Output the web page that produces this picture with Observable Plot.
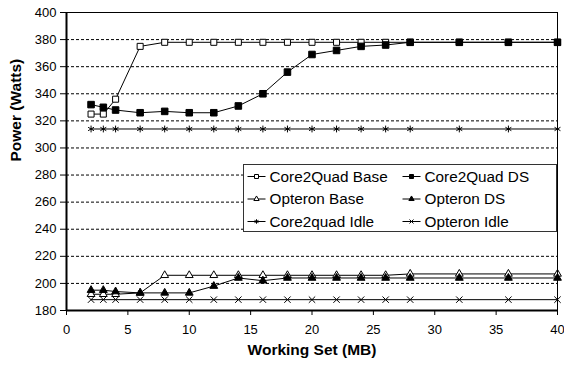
<!DOCTYPE html>
<html><head><meta charset="utf-8">
<script src="https://cdn.jsdelivr.net/npm/d3@7"></script>
<script src="https://cdn.jsdelivr.net/npm/@observablehq/plot@0.6"></script>
<style>
html,body{margin:0;padding:0;background:#fff;}
#wrap{position:relative;width:564px;height:366px;font-family:"Liberation Sans",Arial,sans-serif;}
#legend{position:absolute;left:0;top:0;}
</style></head>
<body><div id="wrap"></div>
<script>
const xs = [2,3,4,6,8,10,12,14,16,18,20,22,24,26,28,32,36,40];
const c2qBase = [325,325,336,375,378,378,378,378,378,378,378,378,378,378,378,378,378,378];
const c2qDS = [332,330,328,326,327,326,326,331,340,356,369,372,375,376,378,378,378,378];
const optBase = [192,192,192,193,206,206,206,206,206,206,206,206,206,206,207,207,207,207];
const optDS = [195,195,194,193,193,193,198,204,202,204,204,204,204,204,204,204,204,204];
const c2qIdle = [314,314,314,314,314,314,314,314,314,314,314,314,314,314,314,314,314,314];
const optIdle = [188,188,188,188,188,188,188,188,188,188,188,188,188,188,188,188,188,188];
const seriesNames = ["Core2Quad Base","Core2Quad DS","Opteron Base","Opteron DS","Core2quad Idle","Opteron Idle"];
const yTicks = [180,200,220,240,260,280,300,320,340,360,380,400];
const xTicks = [0,5,10,15,20,25,30,35,40];

const valuesList = [c2qBase,c2qDS,optBase,optDS,c2qIdle,optIdle];
const symbols = ["square","square","triangle","triangle","asterisk","times"];
const fills = ["#fff","#000","#fff","#000","none","none"];
const sizes = [3.4,3.7,2.9,2.9,3.2,3.0];

const data = [];
seriesNames.forEach((s,i)=>xs.forEach((x,j)=>data.push({series:s,x,y:valuesList[i][j]})));

const marks = [
  Plot.ruleY(yTicks.filter(d=>d>180), {stroke:"#000", strokeDasharray:"3,2", strokeWidth:1}),
];
seriesNames.forEach((s,i)=>{
  const d = data.filter(r=>r.series===s);
  marks.push(Plot.line(d,{x:"x",y:"y",stroke:"#000",strokeWidth:1}));
});
seriesNames.forEach((s,i)=>{
  const d = data.filter(r=>r.series===s);
  marks.push(Plot.dot(d,{x:"x",y:"y",symbol:()=>symbols[i],r:sizes[i],fill:fills[i],stroke:"#000",strokeWidth:1}));
});
marks.push(Plot.frame({stroke:"#000",strokeWidth:1}));
marks.push(Plot.ruleX([0],{stroke:"#000",strokeWidth:2}));
marks.push(Plot.ruleY([180],{stroke:"#000",strokeWidth:2}));
marks.push(Plot.axisY(yTicks,{tickSize:6,tickPadding:4,fontSize:13,label:null,stroke:"#000"}));
marks.push(Plot.axisX(xTicks,{tickSize:5,tickPadding:9,fontSize:13,label:null,stroke:"#000"}));
marks.push(Plot.text(["Working Set (MB)"],{frameAnchor:"bottom",dy:44,fontSize:15.5,fontWeight:"bold",fill:"#000"}));
marks.push(Plot.text(["Power (Watts)"],{frameAnchor:"left",dx:-50,rotate:-90,fontSize:15.5,fontWeight:"bold",fill:"#000"}));

const chart = Plot.plot({
  width:564,height:366,
  marginLeft:66,marginRight:7,marginTop:12,marginBottom:56,
  style:{fontFamily:"Liberation Sans, Arial, sans-serif",color:"#000",background:"#fff",overflow:"visible"},
  x:{domain:[0,40]},
  y:{domain:[180,400]},
  marks
});
document.getElementById("wrap").appendChild(chart);

// legend overlay
const lg = d3.select("#wrap").append("svg").attr("id","legend").attr("width",564).attr("height",366);
const box = {x:243.5,y:164.5,w:313,h:67};
lg.append("rect").attr("x",box.x).attr("y",box.y).attr("width",box.w).attr("height",box.h).attr("fill","#fff").attr("stroke","#333").attr("stroke-width",1);
const symGen = {square:d3.symbolSquare,triangle:d3.symbolTriangle,asterisk:d3.symbolAsterisk,times:d3.symbolTimes};
const legSizes = [16,16,12,12,14,12];
seriesNames.forEach((s,i)=>{
  const col = i%2, row = Math.floor(i/2);
  const x0 = box.x + 4 + col*155, cy = box.y + 12 + row*22.5;
  const g = lg.append("g");
  g.append("line").attr("x1",x0).attr("x2",x0+18).attr("y1",cy).attr("y2",cy).attr("stroke","#000").attr("stroke-width",1);
  g.append("path").attr("transform",`translate(${x0+9},${cy})`).attr("d",d3.symbol(symGen[symbols[i]], legSizes[i])()).attr("fill",fills[i]).attr("stroke","#000").attr("stroke-width",1);
  g.append("text").attr("x",x0+22).attr("y",cy).attr("dy","0.35em").attr("font-size",15.3).attr("font-family","Liberation Sans, Arial, sans-serif").attr("fill","#000").text(s);
});
</script></body></html>
